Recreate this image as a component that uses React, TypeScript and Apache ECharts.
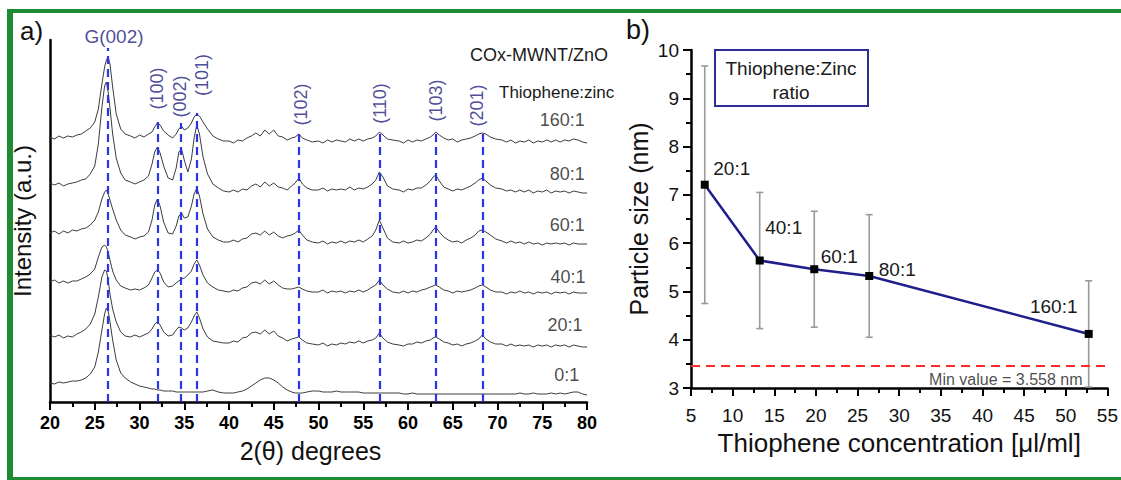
import { useEffect, useRef } from "react";
import * as echarts from "echarts";

// ---------- Panel a) XRD patterns ----------
const TWO_THETA = [
  20, 20.5, 21, 21.5, 22, 22.5, 23, 23.5, 24, 24.5, 25,
  25.4, 25.8, 26.1, 26.3, 26.5, 26.7, 27.0, 27.4, 27.9, 28.4,
  29, 29.5, 30, 30.5, 31, 31.4, 31.7, 32.0, 32.3, 32.7, 33.2, 33.7, 34.1, 34.4, 34.7, 35.0, 35.4, 35.8, 36.1, 36.4, 36.7, 37.1, 37.6, 38.2, 38.8, 39.4,
  40, 40.5, 41, 41.5, 42, 42.5, 43, 43.5, 44, 44.5, 45, 45.5, 46, 46.5, 47,
  47.4, 47.8, 48.2, 48.7, 49.3,
  50, 50.5, 51, 51.5, 52, 52.5, 53, 53.5, 54, 54.5, 55, 55.5, 56,
  56.4, 56.8, 57.2, 57.7, 58.3,
  59, 59.5, 60, 60.5, 61, 61.5, 62, 62.5,
  62.8, 63.1, 63.5, 64,
  64.5, 65, 65.5, 66, 66.5, 67, 67.5,
  67.9, 68.3, 68.7, 69.2, 69.8,
  70.5, 71, 71.5, 72, 72.5, 73, 73.5, 74, 74.5, 75, 75.5, 76, 76.5, 77, 77.5, 78, 78.5, 79, 79.5, 80,
];

const I_160 = [
  265, 263, 266, 264, 266, 265, 267, 268, 271, 274, 280,
  293, 318, 335, 342, 345, 338, 315, 288, 273, 268,
  266, 264, 267, 265, 268, 270, 275, 279, 277, 271, 267, 264, 268, 273, 276, 272, 274, 279, 285, 288, 286, 280, 273, 266, 263, 261,
  261, 259, 262, 261, 264, 266, 269, 266, 272, 268, 272, 266, 265, 262, 264,
  265, 268, 264, 262, 260,
  261, 259, 262, 260, 262, 261, 260, 263, 261, 263, 261, 263, 264,
  266, 270, 267, 263, 262,
  261, 259, 262, 260, 262, 261, 263, 265,
  267, 270, 267, 264,
  262, 263, 260, 262, 263, 264, 266,
  268, 269, 268, 265, 263,
  262, 260, 262, 259, 261, 260, 262, 259, 261, 260, 262, 260, 262, 260, 262, 261, 263, 262, 260, 259,
];

const I_80 = [
  219, 217, 219, 216, 218, 219, 220, 222, 223, 228, 236,
  258, 295, 316, 320, 310, 294, 268, 244, 229, 222,
  220, 218, 220, 222, 226, 238, 250, 255, 249, 236, 224, 222, 234, 250, 253, 242, 230, 243, 264, 277, 268, 245, 228, 218, 214, 211,
  210, 212, 210, 213, 212, 216, 218, 215, 220, 216, 219, 215, 214, 212, 216,
  219, 224, 218, 214, 212,
  212, 214, 211, 213, 212, 213, 212, 215, 212, 214, 213, 215, 218,
  222, 230, 225, 216, 213,
  212, 210, 213, 212, 214, 214, 217, 221,
  225, 227, 221, 215,
  213, 211, 213, 212, 214, 216, 219,
  222, 224, 221, 217, 214,
  213, 211, 212, 210, 212, 210, 212, 209, 211, 210, 212, 209, 211, 210, 211, 209, 211, 210, 209, 209,
];

const I_60 = [
  169, 171, 168, 171, 169, 172, 171, 173, 174, 177, 182,
  190, 203, 210, 212, 208, 202, 193, 182, 172, 167,
  165, 163, 165, 166, 170, 182, 197, 203, 196, 180, 169, 168, 176, 186, 189, 184, 185, 196, 208, 214, 206, 188, 173, 165, 162, 160,
  160, 162, 160, 163, 164, 168, 169, 167, 171, 167, 170, 166, 164, 166, 167,
  169, 172, 167, 162, 160,
  159, 161, 158, 160, 159, 161, 159, 161, 160, 162, 160, 163, 166,
  172, 182, 174, 164, 160,
  159, 161, 159, 160, 162, 161, 164, 168,
  172, 175, 170, 165,
  162, 160, 161, 159, 162, 164, 167,
  171, 172, 170, 167, 163,
  161, 159, 161, 159, 160, 158, 160, 158, 159, 157, 159, 158, 159, 158, 159, 157, 159, 158, 158, 158,
];

const I_40 = [
  120, 122, 119, 121, 119, 121, 121, 123, 125, 128, 133,
  145, 155, 157, 155, 150, 142, 131, 122, 116, 114,
  112, 113, 112, 114, 117, 124, 130, 132, 129, 120, 115, 116, 119, 121, 123, 124, 127, 131, 138, 142, 137, 127, 119, 115, 112, 111,
  110, 112, 111, 114, 115, 119, 120, 118, 122, 118, 121, 117, 114, 113, 113,
  114, 115, 113, 111, 110,
  110, 112, 109, 111, 110, 111, 109, 111, 110, 112, 110, 112, 115,
  117, 122, 117, 113, 110,
  109, 111, 109, 111, 110, 112, 113, 115,
  116, 117, 115, 112,
  111, 109, 111, 110, 111, 112, 114,
  116, 117, 115, 112, 110,
  110, 108, 110, 109, 111, 109, 110, 108, 110, 109, 110, 108, 110, 109, 110, 108, 110, 109, 109, 109,
];

const I_20 = [
  67, 65, 67, 64, 66, 65, 68, 70, 73, 78, 88,
  105, 125, 132, 131, 122, 108, 93, 80, 70, 66,
  65, 67, 65, 67, 69, 73, 78, 80, 77, 70, 66, 67, 72, 75, 74, 72, 74, 80, 86, 90, 84, 73, 65, 61, 60, 59,
  59, 61, 60, 64, 65, 69, 70, 68, 72, 68, 71, 66, 64, 61, 63,
  64, 65, 62, 59, 58,
  57, 59, 56, 58, 57, 59, 58, 60, 59, 61, 59, 61, 62,
  64, 69, 64, 60, 58,
  57, 56, 58, 58, 60, 59, 61, 62,
  64, 65, 63, 60,
  59, 57, 58, 56, 58, 59, 61,
  63, 67, 63, 60, 58,
  58, 56, 58, 56, 57, 56, 57, 55, 57, 56, 57, 55, 57, 56, 57, 55, 57, 56, 55, 55,
];

const I_0 = [
  19, 18, 20, 19, 20, 21, 21, 22, 24, 28, 35,
  50, 72, 88, 94, 91, 80, 62, 42, 29, 24,
  20, 18, 16, 15, 14, 13, 13, 12, 12, 11, 11, 11, 10, 10, 10, 10, 10, 10, 10, 10, 10, 10, 11, 12, 10, 9,
  9, 9, 10, 11, 13, 16, 19, 22, 24, 24, 22, 19, 15, 12, 10,
  9, 9, 9, 10, 11,
  11, 10, 10, 10, 11, 10, 10, 10, 10, 10, 9, 9, 9,
  9, 9, 9, 9, 9,
  9, 8, 8, 9, 8, 8, 8, 8,
  8, 8, 8, 8,
  8, 8, 8, 8, 8, 8, 8,
  8, 8, 8, 8, 8,
  8, 8, 8, 8, 9, 8, 8, 9, 8, 8, 8, 9, 8, 9, 8, 9, 10, 10, 8, 7,
];

const TRACES = [I_160, I_80, I_60, I_40, I_20, I_0];
const RATIO_LABELS = ["160:1", "80:1", "60:1", "40:1", "20:1", "0:1"];
const RATIO_LABEL_X = [79.8, 79.8, 79.8, 79.9, 79.55, 79.2];
const RATIO_LABEL_Y = [282, 228.5, 177, 125.5, 77, 27];

const PEAK_POS = [26.5, 32.0, 34.6, 36.45, 47.8, 56.85, 63.1, 68.3];
const PEAK_LINE_TOP = [354, 280, 279, 289, 270, 272, 271, 269];
const PEAK_LABELS = ["G(002)", "(100)", "(002)", "(101)", "(102)", "(110)", "(103)", "(201)"];
const PEAK_LABEL_X = [27.15, 31.96, 34.47, 37.0, 48.1, 56.87, 63.13, 67.7];
const PEAK_LABEL_Y = [366, 313.5, 305.5, 327, 297.5, 298.5, 301.5, 296.5];

// ---------- Panel b) particle size ----------
const CONC = [6.65, 13.25, 19.8, 26.4, 52.75];
const SIZE = [7.21, 5.64, 5.46, 5.32, 4.12];
const SIZE_ERR = [2.46, 1.41, 1.2, 1.27, 1.1];
const POINT_LABELS = ["20:1", "40:1", "60:1", "80:1", "160:1"];
const POINT_LABEL_OFFSET = [
  [27, -16],
  [24, -33],
  [25, -13],
  [28, -6],
  [-35, -27],
];
const MIN_LINE = 3.47;
const MIN_TEXT = "Min value = 3.558 nm";

const FONT = "Liberation Sans, Arial, Helvetica, sans-serif";
const NAVY = "#1c2080";

function buildOption() {
  const axisCol = "#000";
  const xrdSeries = TRACES.map((tr, k) => ({
    type: "line",
    xAxisIndex: 0,
    yAxisIndex: 0,
    showSymbol: false,
    symbol: "none",
    silent: true,
    lineStyle: { color: "#3c3c3c", width: 1 },
    data: TWO_THETA.map((t, i) => [t, tr[i]]),
    z: 3,
    name: RATIO_LABELS[k],
  }));

  const peakLines = {
    type: "line",
    xAxisIndex: 0,
    yAxisIndex: 0,
    data: [],
    silent: true,
    markLine: {
      symbol: ["none", "none"],
      silent: true,
      animation: false,
      label: { show: false },
      lineStyle: { color: "#2a35e8", width: 2.2, type: [8, 5] },
      data: PEAK_POS.map((p, i) => [
        { coord: [p, 0] },
        { coord: [p, PEAK_LINE_TOP[i]] },
      ]),
    },
    z: 2,
  };

  const peakLabels = {
    type: "scatter",
    xAxisIndex: 0,
    yAxisIndex: 0,
    clip: false,
    silent: true,
    symbolSize: 1,
    itemStyle: { color: "rgba(0,0,0,0)" },
    data: PEAK_LABELS.map((l, i) => ({
      value: [PEAK_LABEL_X[i], PEAK_LABEL_Y[i]],
      label: {
        show: true,
        position: "inside",
        formatter: l,
        rotate: i === 0 ? 0 : 90,
        fontSize: i === 0 ? 19 : 18,
        color: NAVY,
        fontFamily: FONT,
      },
    })),
    z: 4,
  };

  const ratioLabels = {
    type: "scatter",
    xAxisIndex: 0,
    yAxisIndex: 0,
    clip: false,
    silent: true,
    symbolSize: 1,
    itemStyle: { color: "rgba(0,0,0,0)" },
    data: RATIO_LABELS.map((l, i) => ({
      value: [RATIO_LABEL_X[i], RATIO_LABEL_Y[i]],
      label: {
        show: true,
        position: "left",
        distance: 0,
        formatter: l,
        fontSize: 18,
        color: "#1a1a1a",
        fontFamily: FONT,
      },
    })),
    z: 4,
  };

  const errorBars = {
    type: "custom",
    xAxisIndex: 1,
    yAxisIndex: 1,
    silent: true,
    data: CONC.map((c, i) => [c, SIZE[i] - SIZE_ERR[i], SIZE[i] + SIZE_ERR[i]]),
    encode: { x: 0, y: [1, 2] },
    renderItem: (params: any, api: any) => {
      const lo = api.coord([api.value(0), api.value(1)]);
      const hi = api.coord([api.value(0), api.value(2)]);
      const w = 3.5;
      const style = { stroke: "#9a9a9a", lineWidth: 1.6 };
      return {
        type: "group",
        children: [
          { type: "line", shape: { x1: hi[0], y1: hi[1], x2: lo[0], y2: lo[1] }, style },
          { type: "line", shape: { x1: hi[0] - w, y1: hi[1], x2: hi[0] + w, y2: hi[1] }, style },
          { type: "line", shape: { x1: lo[0] - w, y1: lo[1], x2: lo[0] + w, y2: lo[1] }, style },
        ],
      };
    },
    z: 1,
  };

  const sizeLine = {
    type: "line",
    xAxisIndex: 1,
    yAxisIndex: 1,
    silent: true,
    symbol: "rect",
    symbolSize: 8,
    itemStyle: { color: "#000" },
    lineStyle: { color: "#1f1f8c", width: 2.5 },
    data: CONC.map((c, i) => ({
      value: [c, SIZE[i]],
      label: {
        show: true,
        position: "inside",
        offset: POINT_LABEL_OFFSET[i],
        formatter: POINT_LABELS[i],
        fontSize: 19,
        color: "#1a1a1a",
        fontFamily: FONT,
      },
    })),
    markLine: {
      symbol: ["none", "none"],
      silent: true,
      label: { show: false },
      lineStyle: { color: "#ff2a2a", width: 2, type: [9, 6] },
      data: [{ yAxis: MIN_LINE }],
    },
    z: 3,
  };

  const minText = {
    type: "scatter",
    xAxisIndex: 1,
    yAxisIndex: 1,
    clip: false,
    silent: true,
    symbolSize: 1,
    itemStyle: { color: "rgba(0,0,0,0)" },
    data: [
      {
        value: [52.07, 3.166],
        label: {
          show: true,
          position: "left",
          distance: 0,
          formatter: MIN_TEXT,
          fontSize: 16,
          color: "#1a1a1a",
          fontFamily: FONT,
        },
      },
    ],
    z: 4,
  };

  return {
    animation: false,
    backgroundColor: "#fff",
    textStyle: { fontFamily: FONT },
    grid: [
      { left: 50, top: 40, width: 537, height: 362 },
      { left: 691, top: 50, width: 427, height: 338 },
    ],
    xAxis: [
      {
        type: "value",
        gridIndex: 0,
        min: 20,
        max: 80,
        interval: 5,
        axisLine: { show: true, onZero: false, lineStyle: { color: axisCol, width: 2.5 } },
        axisTick: { show: true, inside: false, length: 8, lineStyle: { color: axisCol, width: 2 } },
        minorTick: { show: true, splitNumber: 2, length: 5, lineStyle: { color: axisCol, width: 2 } },
        splitLine: { show: false },
        axisLabel: { fontSize: 18, fontWeight: "bold", color: "#000", margin: 12, fontFamily: FONT },
        name: "2(θ) degrees",
        nameLocation: "middle",
        nameGap: 36,
        nameTextStyle: { fontSize: 25, color: "#111", fontFamily: FONT, padding: [0, 16, 0, 0] },
      },
      {
        type: "value",
        gridIndex: 1,
        min: 5,
        max: 55,
        interval: 5,
        axisLine: { show: true, onZero: false, lineStyle: { color: axisCol, width: 2.5 } },
        axisTick: { show: true, inside: false, length: 8, lineStyle: { color: axisCol, width: 2 } },
        minorTick: { show: true, splitNumber: 2, length: 5, lineStyle: { color: axisCol, width: 2 } },
        splitLine: { show: false },
        axisLabel: { fontSize: 19, color: "#111", margin: 18, fontFamily: FONT },
        name: "Thiophene concentration [μl/ml]",
        nameLocation: "middle",
        nameGap: 42,
        nameTextStyle: { fontSize: 26, color: "#111", fontFamily: FONT },
      },
    ],
    yAxis: [
      {
        type: "value",
        gridIndex: 0,
        min: 0,
        max: 362,
        axisLine: { show: true, onZero: false, lineStyle: { color: axisCol, width: 2.5 } },
        axisTick: { show: false },
        axisLabel: { show: false },
        splitLine: { show: false },
        name: "Intensity (a.u.)",
        nameLocation: "middle",
        nameGap: 16,
        nameTextStyle: { fontSize: 24, color: "#111", fontFamily: FONT },
      },
      {
        type: "value",
        gridIndex: 1,
        min: 3,
        max: 10,
        interval: 1,
        axisLine: { show: true, onZero: false, lineStyle: { color: axisCol, width: 2.5 } },
        axisTick: { show: true, inside: false, length: 8, lineStyle: { color: axisCol, width: 2 } },
        minorTick: { show: true, splitNumber: 2, length: 5, lineStyle: { color: axisCol, width: 2 } },
        splitLine: { show: false },
        axisLabel: { fontSize: 19, color: "#111", margin: 12, fontFamily: FONT },
        name: "Particle size (nm)",
        nameLocation: "middle",
        nameGap: 40,
        nameTextStyle: { fontSize: 25, color: "#111", fontFamily: FONT },
      },
    ],
    graphic: [
      { type: "rect", shape: { x: 7, y: 9, width: 1114, height: 4 }, style: { fill: "#1e8c32" }, silent: true },
      { type: "rect", shape: { x: 7, y: 9, width: 6, height: 471 }, style: { fill: "#1e8c32" }, silent: true },
      { type: "rect", shape: { x: 7, y: 477, width: 1114, height: 3 }, style: { fill: "#1e8c32" }, silent: true },
      { type: "text", x: 20, y: 31, style: { text: "a)", font: `26px ${FONT}`, fill: "#111", textVerticalAlign: "middle" }, silent: true },
      { type: "text", x: 626, y: 30, style: { text: "b)", font: `27px ${FONT}`, fill: "#111", textVerticalAlign: "middle" }, silent: true },
      { type: "text", x: 470, y: 55, style: { text: "COx-MWNT/ZnO", font: `18px ${FONT}`, fill: "#1a1a1a", textVerticalAlign: "middle" }, silent: true },
      { type: "text", x: 499, y: 92, style: { text: "Thiophene:zinc", font: `17px ${FONT}`, fill: "#1a1a1a", textVerticalAlign: "middle" }, silent: true },
      { type: "rect", shape: { x: 715, y: 50, width: 153, height: 56 }, style: { fill: "#fff", stroke: "#2d2d96", lineWidth: 2 }, silent: true, z: 10 },
      { type: "text", x: 791, y: 68, style: { text: "Thiophene:Zinc", font: `19px ${FONT}`, fill: "#1a1a1a", textAlign: "center", textVerticalAlign: "middle" }, silent: true, z: 11 },
      { type: "text", x: 791, y: 92, style: { text: "ratio", font: `19px ${FONT}`, fill: "#1a1a1a", textAlign: "center", textVerticalAlign: "middle" }, silent: true, z: 11 },
    ],
    series: [peakLines, ...xrdSeries, peakLabels, ratioLabels, errorBars, sizeLine, minText],
  };
}

export default function App() {
  const ref = useRef<HTMLDivElement>(null);
  useEffect(() => {
    if (!ref.current) return;
    const chart = echarts.init(ref.current, null, { renderer: "svg" });
    chart.setOption(buildOption() as any);
    return () => chart.dispose();
  }, []);
  return (
    <div
      ref={ref}
      style={{ position: "fixed", left: 0, top: 0, width: 1121, height: 480, background: "#fff" }}
    />
  );
}
